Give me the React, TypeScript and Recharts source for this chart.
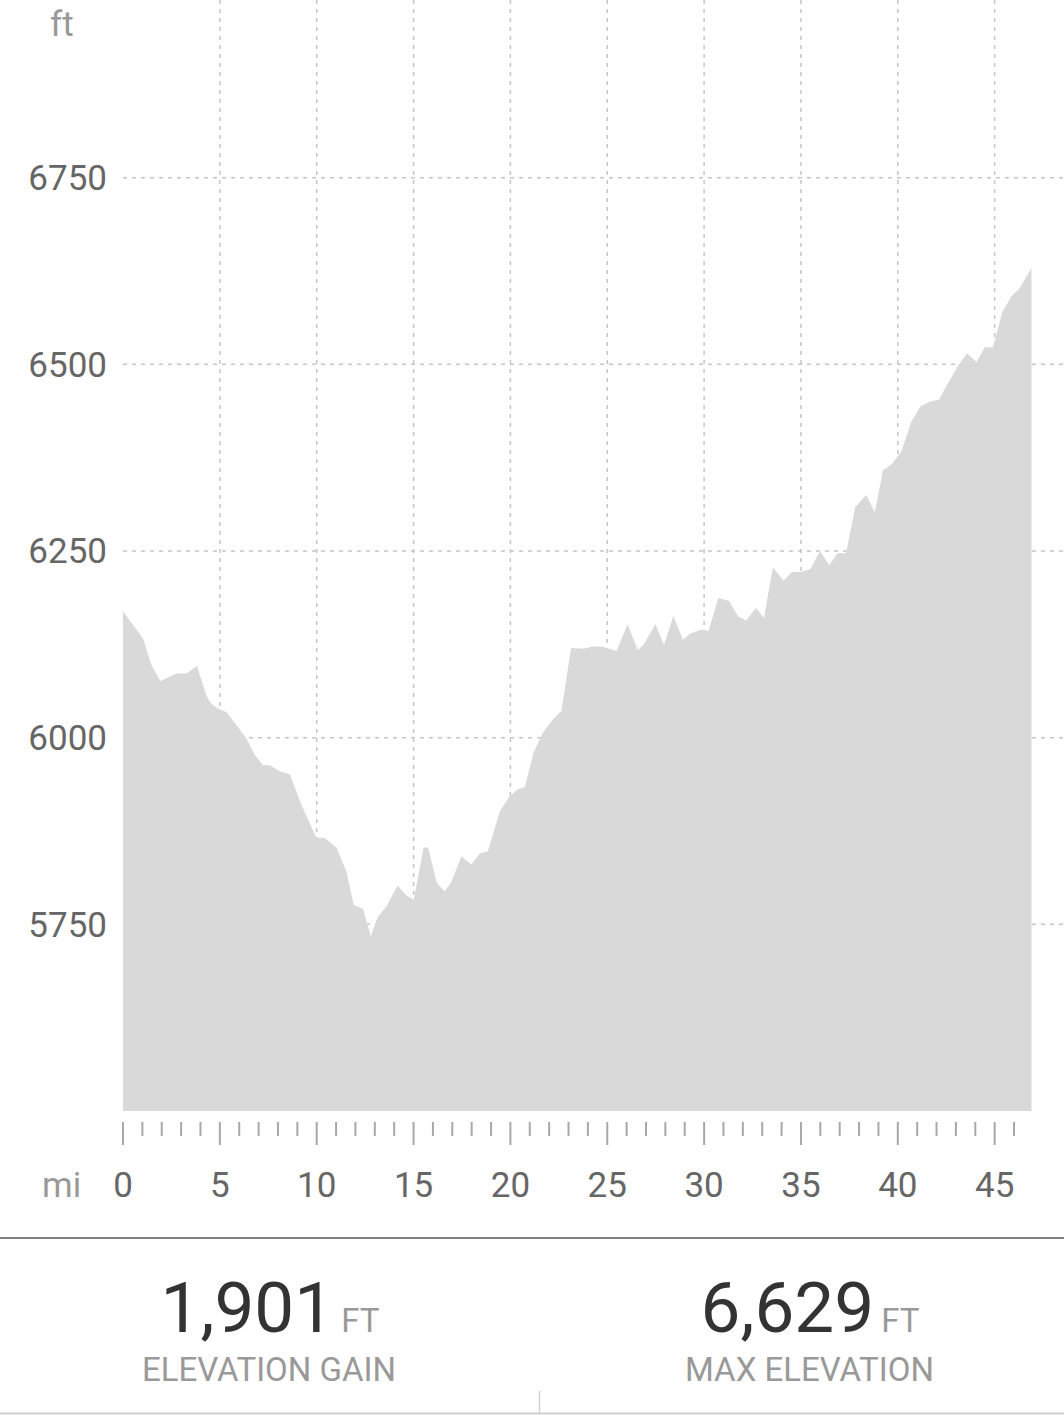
import React from 'react';
import { AreaChart, Area, XAxis, YAxis, CartesianGrid } from 'recharts';

// distance along the route (mi) and elevation (ft)
const miles = [
  0, 1.03, 1.47, 1.93, 2.76, 3.27, 3.82, 4.31, 4.56, 4.9,
  5.34, 5.85, 6.37, 6.8, 7.23, 7.57, 8.09, 8.61, 9.21, 9.98,
  10.41, 11.02, 11.53, 11.91, 12.39, 12.79, 13.16, 13.6, 14.17, 14.63,
  15.01, 15.52, 15.75, 16.21, 16.61, 16.95, 17.47, 17.99, 18.42, 18.84,
  19.45, 19.91, 20.37, 20.74, 21.2, 21.66, 22.21, 22.64, 23.13, 23.78,
  24.24, 24.7, 24.97, 25.48, 26.05, 26.58, 26.91, 27.49, 27.93, 28.41,
  28.91, 29.31, 29.87, 30.23, 30.73, 31.29, 31.77, 32.17, 32.68, 33.09,
  33.55, 34.1, 34.53, 35.03, 35.49, 35.99, 36.45, 36.89, 37.33, 37.8,
  38.38, 38.81, 39.24, 39.67, 40.19, 40.7, 41.17, 41.65, 42.13, 42.64,
  43.11, 43.57, 44.06, 44.49, 44.91, 45.4, 45.86, 46.29, 46.9,
];

const elevationFt = [
  6169, 6133, 6097, 6076, 6086, 6086, 6096, 6056, 6045, 6039,
  6034, 6017, 5999, 5977, 5963, 5963, 5955, 5951, 5910, 5866,
  5866, 5853, 5821, 5776, 5771, 5734, 5760, 5774, 5802, 5789,
  5783, 5853, 5853, 5805, 5794, 5807, 5841, 5830, 5845, 5848,
  5901, 5920, 5931, 5934, 5980, 6006, 6025, 6036, 6120, 6119,
  6122, 6122, 6120, 6116, 6152, 6117, 6126, 6152, 6124, 6163,
  6131, 6140, 6145, 6143, 6187, 6183, 6162, 6157, 6174, 6160,
  6228, 6210, 6222, 6222, 6226, 6250, 6231, 6247, 6247, 6309,
  6325, 6302, 6358, 6366, 6384, 6423, 6444, 6450, 6453, 6477,
  6498, 6515, 6503, 6523, 6523, 6570, 6591, 6602, 6629,
];

const elevTicks = [5750, 6000, 6250, 6500, 6750];
const mileTicks = [
  0, 1, 2, 3, 4, 5, 6, 7, 8, 9, 10, 11, 12, 13, 14, 15, 16, 17, 18, 19, 20, 21, 22, 23,
  24, 25, 26, 27, 28, 29, 30, 31, 32, 33, 34, 35, 36, 37, 38, 39, 40, 41, 42, 43, 44, 45, 46,
];
const gridMiles = [5, 10, 15, 20, 25, 30, 35, 40, 45];

const elevDomain = [5500, 7000];
const mileDomain = [0, 48.58];

const elevationGain = '1,901';
const maxElevation = '6,629';

const profile = miles.map((mi, i) => ({ mi, ft: elevationFt[i] }));

const FONT = 'Roboto, sans-serif';

const MileTick = ({ x, y, payload }: any) => {
  const major = payload.value % 5 === 0;
  return (
    <g>
      <line x1={x} x2={x} y1={y + 11} y2={y + (major ? 34 : 25)} stroke="#a8a8a8" strokeWidth={2} />
      {major && (
        <text x={x} y={y + 86} textAnchor="middle" fontSize={35} fill="#666" fontFamily={FONT}>
          {payload.value}
        </text>
      )}
    </g>
  );
};

export default function App() {
  return (
    <div style={{ position: 'absolute', left: 0, top: 0, width: 1064, height: 1415, background: '#fff', fontFamily: FONT }}>
      <div style={{ position: 'absolute', left: 0, top: -9 }}>
        <AreaChart width={1064} height={1230} data={profile} margin={{ top: 0, right: 0, bottom: 0, left: 0 }}>
          <CartesianGrid
            xAxisId="grid"
            syncWithTicks
            stroke="#c6c6c6"
            strokeWidth={1.5}
            strokeDasharray="4 5"
          />
          <XAxis
            xAxisId="grid"
            type="number"
            dataKey="mi"
            domain={mileDomain}
            ticks={gridMiles}
            allowDataOverflow
            hide
          />
          <XAxis
            type="number"
            dataKey="mi"
            domain={mileDomain}
            ticks={mileTicks}
            interval={0}
            allowDataOverflow
            axisLine={false}
            tickLine={false}
            tickSize={0}
            tickMargin={0}
            height={110}
            tick={<MileTick />}
          />
          <YAxis
            type="number"
            domain={elevDomain}
            ticks={elevTicks}
            allowDataOverflow
            axisLine={false}
            tickLine={false}
            tickSize={0}
            tickMargin={16}
            width={123}
            tick={{ fontSize: 35, fill: '#666', fontFamily: FONT }}
          />
          <Area
            type="linear"
            dataKey="ft"
            stroke="none"
            fill="#d9d9d9"
            fillOpacity={1}
            dot={false}
            activeDot={false}
            isAnimationActive={false}
          />
        </AreaChart>
      </div>

      <svg width={1064} height={1415} style={{ position: 'absolute', left: 0, top: 0, pointerEvents: 'none' }}>
        <text x={50} y={36} fontSize={35} fill="#999" fontFamily={FONT}>ft</text>
        <text x={42} y={1197} fontSize={35} fill="#999" fontFamily={FONT}>mi</text>

        <line x1={0} x2={1064} y1={1238} y2={1238} stroke="#555" strokeWidth={1.5} />
        <line x1={0} x2={1064} y1={1413.5} y2={1413.5} stroke="#d0d0d0" strokeWidth={2} />
        <line x1={539.5} x2={539.5} y1={1391} y2={1413} stroke="#d0d0d0" strokeWidth={1.5} />

        <text x={270} y={1332} textAnchor="middle" fontFamily={FONT}>
          <tspan fontSize={71} fill="#333">{elevationGain}</tspan>
          <tspan fontSize={33} fill="#999" dx={7}>FT</tspan>
        </text>
        <text x={269} y={1381} textAnchor="middle" fontSize={33} fill="#999" fontFamily={FONT}>ELEVATION GAIN</text>

        <text x={810} y={1332} textAnchor="middle" fontFamily={FONT}>
          <tspan fontSize={71} fill="#333">{maxElevation}</tspan>
          <tspan fontSize={33} fill="#999" dx={7}>FT</tspan>
        </text>
        <text x={809.5} y={1381} textAnchor="middle" fontSize={33} fill="#999" fontFamily={FONT}>MAX ELEVATION</text>
      </svg>
    </div>
  );
}
